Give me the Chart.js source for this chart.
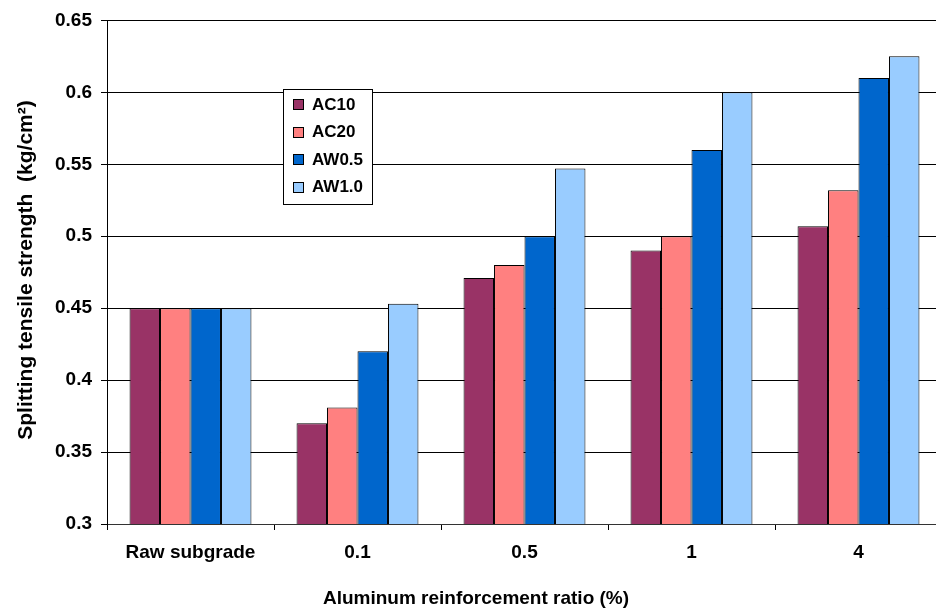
<!DOCTYPE html>
<html>
<head>
<meta charset="utf-8">
<script src="https://cdn.jsdelivr.net/npm/chart.js@4.4.1/dist/chart.umd.min.js"></script>
<style>
  html, body { margin: 0; padding: 0; overflow: hidden; background: #fff; }
  #wrap { width: 942px; height: 612px; position: relative; }
</style>
</head>
<body>
<div id="wrap"><canvas id="c"></canvas></div>
<script>
// Splitting tensile strength by aluminum reinforcement ratio
const categories = ['Raw subgrade', '0.1', '0.5', '1', '4'];
const seriesNames = ['AC10', 'AC20', 'AW0.5', 'AW1.0'];
const ac10 = [0.45, 0.37, 0.471, 0.49, 0.507];
const ac20 = [0.45, 0.381, 0.48, 0.5, 0.532];
const aw05 = [0.45, 0.42, 0.5, 0.56, 0.61];
const aw10 = [0.45, 0.453, 0.547, 0.6, 0.625];
const yTickValues = [0.3, 0.35, 0.4, 0.45, 0.5, 0.55, 0.6, 0.65];
const yTickLabels = ['0.3', '0.35', '0.4', '0.45', '0.5', '0.55', '0.6', '0.65'];
const xTitle = 'Aluminum reinforcement ratio (%)';
const yTitle = 'Splitting tensile strength  (kg/cm\u00B2)';

const seriesValues = [ac10, ac20, aw05, aw10];
const seriesColors = ['#993366', '#FF8080', '#0066CC', '#99CCFF'];
const FONT = '"Liberation Sans", Arial, sans-serif';

// Boxed legend and the two axis titles, drawn on top of the chart
const decorations = {
  id: 'decorations',
  afterDraw(chart) {
    const ctx = chart.ctx;
    ctx.save();
    // legend box
    const bx = 283.5, by = 89.5, bw = 89, bh = 115;
    ctx.fillStyle = '#fff';
    ctx.fillRect(bx, by, bw, bh);
    ctx.strokeStyle = '#000';
    ctx.lineWidth = 1;
    ctx.strokeRect(bx, by, bw, bh);
    ctx.font = 'bold 17px ' + FONT;
    ctx.textBaseline = 'middle';
    ctx.textAlign = 'left';
    chart.data.datasets.forEach((ds, i) => {
      const cy = 104 + i * 27.6;
      ctx.fillStyle = ds.backgroundColor;
      ctx.fillRect(293, Math.round(cy) - 5, 11, 11);
      ctx.strokeStyle = '#000';
      ctx.strokeRect(293.5, Math.round(cy) - 4.5, 10, 10);
      ctx.fillStyle = '#000';
      ctx.fillText(ds.label, 312, cy + 1);
    });
    // x axis title
    ctx.font = 'bold 19px ' + FONT;
    ctx.textAlign = 'center';
    ctx.fillText(xTitle, 476, 599);
    // y axis title
    ctx.translate(26, 270);
    ctx.rotate(-Math.PI / 2);
    ctx.font = 'bold 21px ' + FONT;
    ctx.fillText(yTitle, 0, 0);
    ctx.restore();
  }
};

new Chart(document.getElementById('c'), {
  type: 'bar',
  data: {
    labels: categories,
    datasets: seriesNames.map((name, i) => ({
      label: name,
      data: seriesValues[i],
      backgroundColor: seriesColors[i],
      borderColor: '#000',
      borderWidth: 1,
      categoryPercentage: 0.73,
      barPercentage: 1.0
    }))
  },
  options: {
    responsive: true,
    maintainAspectRatio: false,
    animation: false,
    layout: { padding: { top: 18, right: 0, bottom: 0, left: 0 } },
    plugins: {
      legend: { display: false },
      tooltip: { enabled: false }
    },
    scales: {
      x: {
        grid: {
          offset: true,
          drawOnChartArea: false,
          drawTicks: true,
          tickLength: 6,
          color: '#000'
        },
        border: { display: true, color: '#333', width: 1 },
        ticks: {
          color: '#000',
          padding: 11,
          maxRotation: 0,
          autoSkip: false,
          font: { family: FONT, size: 19, weight: 'bold' }
        },
        afterFit(scale) { scale.height = 88; }
      },
      y: {
        min: 0.3,
        max: 0.65,
        afterBuildTicks(scale) { scale.ticks = yTickValues.map(v => ({ value: v })); },
        grid: {
          color: '#000',
          lineWidth: 1,
          drawTicks: true,
          tickLength: 6
        },
        border: { display: true, color: '#000', width: 1 },
        ticks: {
          color: '#000',
          padding: 9,
          font: { family: FONT, size: 19, weight: 'bold' },
          callback: (v, i) => yTickLabels[i]
        },
        afterFit(scale) { scale.width = 107; }
      }
    }
  },
  plugins: [decorations]
});
</script>
</body>
</html>
